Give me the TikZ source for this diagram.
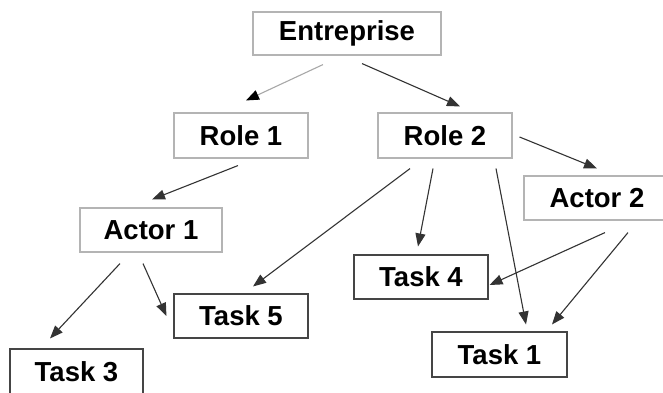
\documentclass[tikz,border=0pt]{standalone}
\usepackage{fontspec}
\setmainfont{Liberation Sans}
\usetikzlibrary{arrows.meta,calc}
\definecolor{lightbox}{HTML}{B4B4B4}
\definecolor{darkbox}{HTML}{454545}
\definecolor{arrowcol}{HTML}{333333}
\definecolor{lightarrow}{HTML}{A8A8A8}
\begin{document}
\begin{tikzpicture}[x=1pt,y=-1pt,
  base/.style={rectangle,inner sep=0pt,font=\fontsize{27.5}{32}\selectfont\bfseries,text=black,line width=1.1pt},
  lbox/.style={base,draw=lightbox},
  dbox/.style={base,draw=darkbox},
  conn/.style={draw=arrowcol,line width=1.1pt,-{Triangle[length=13pt,width=10pt]}},
  lconn/.style={draw=lightarrow,line width=1.1pt,-{Triangle[length=13pt,width=10pt,color=black,fill=black]}}]
\useasboundingbox (0,0) rectangle (663,392);
\clip (0,0) rectangle (663,392);
\fill[white] (0,0) rectangle (663,392);
\node[lbox,minimum width=188pt,minimum height=43pt] (ent) at (347,33.5) {Entreprise};
\node[lbox,minimum width=134pt,minimum height=45pt] (r1) at (241,135.5) {Role 1};
\node[lbox,minimum width=134pt,minimum height=45pt] (r2) at (445,135.5) {Role 2};
\node[lbox,minimum width=142pt,minimum height=44pt] (a1) at (151,230) {Actor 1};
\node[lbox,minimum width=170pt,minimum height=44pt] (a2) at (609,198) {\hspace*{-24pt}Actor 2};
\node[dbox,minimum width=134pt,minimum height=44pt] (t5) at (241,316) {Task 5};
\node[dbox,minimum width=133pt,minimum height=46pt] (t3) at (76.5,372) {Task 3};
\node[dbox,minimum width=134pt,minimum height=44pt] (t4) at (421,277) {Task 4};
\node[dbox,minimum width=135pt,minimum height=45pt] (t1) at (499.5,354.5) {Task 1};
\draw[lconn] ($(ent.south)+(-24,9)$) -- ($(r1.north)+(5,-12)$);
\draw[conn] ($(ent.south)+(15,8)$) -- ($(r2.north)+(15,-6)$);
\draw[conn] ($(r1.south)+(-3,7)$) -- ($(a1.north)+(1,-8)$);
\draw[conn] ($(r2.south)+(-35,10)$) -- ($(t5.north)+(12,-7)$);
\draw[conn] ($(r2.south)+(-12,10)$) -- ($(t4.north)+(-3,-8)$);
\draw[conn] ($(r2.south)+(51,10)$) -- ($(t1.north)+(26.5,-7)$);
\draw[conn] ($(r2.east)+(7,1.5)$) -- ($(a2.north)+(-12,-7)$);
\draw[conn] ($(a2.south)+(-4,12)$) -- ($(t4.east)+(1,8)$);
\draw[conn] ($(a2.south)+(19,12)$) -- ($(t1.north)+(52.5,-7)$);
\draw[conn] ($(a1.south)+(-31,11)$) -- ($(t3.north)+(-26.5,-10)$);
\draw[conn] ($(a1.south)+(-8,11)$) -- ($(t5.west)+(-7,0)$);
\end{tikzpicture}
\end{document}
